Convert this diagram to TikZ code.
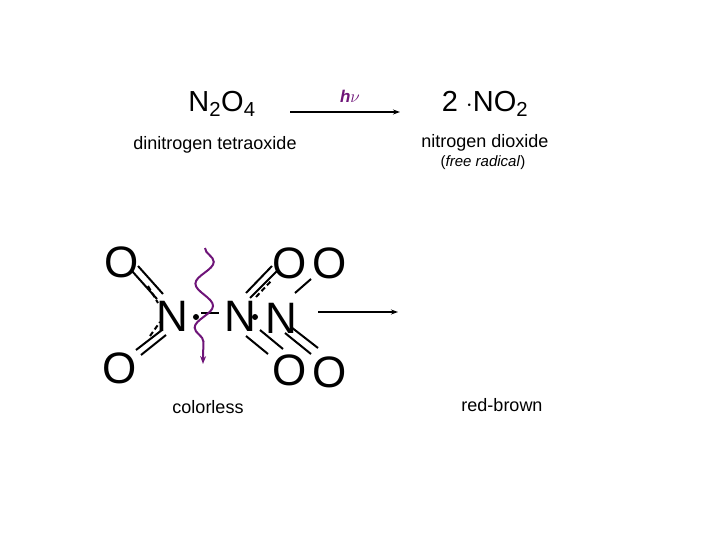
\documentclass[tikz,border=0pt]{standalone}
\usepackage{fontspec}
\setmainfont{Liberation Sans}
\usetikzlibrary{decorations.pathmorphing,arrows.meta}
\begin{document}
\begin{tikzpicture}[x=1pt,y=-1pt,
  big/.style={font=\fontsize{29}{33}\selectfont,inner sep=0},
  atom/.style={font=\fontsize{44}{48}\selectfont,inner sep=0},
  lab/.style={font=\fontsize{18}{21}\selectfont,inner sep=0},
  bond/.style={line width=2pt},
  dbond/.style={line width=2pt,dash pattern=on 5pt off 3pt}]
\useasboundingbox (0,0) rectangle (720,540);
\definecolor{purp}{RGB}{110,20,120}
\node[big] (n2o4) at (222,104) {N\textsubscript{2}O\textsubscript{4}};
\node[lab] (l1) at (215,145) {dinitrogen tetraoxide};
\coordinate (a1) at (290,112); \coordinate (a2) at (400,112);
\draw[line width=1.2pt,-{Stealth[length=7pt,width=5pt]}] (a1) -- (a2);
\node[font=\fontsize{17}{20}\selectfont\itshape\bfseries,text=purp] (hv) at (350,96) {h$\nu$};
\node[big] (no2) at (485,104) {2 $\cdot$NO\textsubscript{2}};
\node[lab] (l2) at (485,143) {nitrogen dioxide};
\node[font=\fontsize{15}{18}\selectfont,inner sep=0] (l3) at (483,163) {(\textit{free radical})};
% molecule
\node[atom] (o1) at (122,262) {O};
\node[atom] (o2) at (120,368) {O};
\node[atom] (n1) at (172,316) {N};
\node[atom] (n2) at (240,316) {N};
\node[atom] (n3) at (281,318) {N};
\node[atom] (o3) at (290,263) {O};
\node[atom] (o4) at (330,263) {O};
\node[atom] (o5) at (290,370) {O};
\node[atom] (o6) at (330,372) {O};
% left bonds
\draw[bond] (138,266) -- (163,294);
\draw[bond] (132,271) -- (157,299);
\draw[dbond] (148,286) -- (158,303);
\draw[bond] (136,350) -- (162,330);
\draw[bond] (141,355) -- (166,335);
\draw[dbond] (150,336) -- (160,322);
\fill (196,317) circle (3);
\draw[bond] (201,313) -- (219,313);
\fill (255,317) circle (3);
% center bonds
\draw[bond] (246,293) -- (272,266);
\draw[bond] (250,298) -- (277,271);
\draw[dbond] (256,297) -- (272,280);
\draw[bond] (295,293) -- (311,279);
\draw[bond] (246,336) -- (268,354);
\draw[bond] (260,330) -- (283,349);
\draw[bond] (291,327) -- (318,348);
\draw[bond] (285,333) -- (311,354);
% wavy
\draw[purp,line width=2pt,-{Stealth[length=8pt]},decorate,decoration={snake,amplitude=9pt,segment length=44pt,post length=5pt}] (205,248) -- (203,364);
\coordinate (b1) at (318,312); \coordinate (b2) at (398,312);
\draw[line width=1.2pt,-{Stealth[length=7pt,width=5pt]}] (b1) -- (b2);
\node[lab] (c1) at (208,407) {colorless};
\node[lab] (c2) at (502,405) {red-brown};
\end{tikzpicture}
\end{document}
